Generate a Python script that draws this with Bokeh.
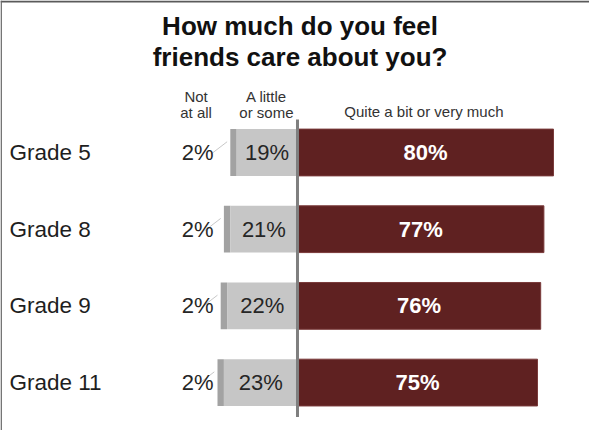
from bokeh.plotting import figure
from bokeh.models import Range1d, ColumnDataSource, Span, Label
from bokeh.core.properties import value
from bokeh.embed import file_html
from bokeh.resources import INLINE

grades = ["Grade 5", "Grade 8", "Grade 9", "Grade 11"]
not_at_all = [2, 2, 2, 2]
a_little = [19, 21, 22, 23]
quite_a_bit = [80, 77, 76, 75]

title_lines = ["How much do you feel", "friends care about you?"]
header_not = ["Not", "at all"]
header_little = ["A little", "or some"]
header_quite = "Quite a bit or very much"

MAROON = "#5f2121"
LIGHT = "#c6c6c6"
DARK = "#a2a2a2"
FONT = "Liberation Sans"

rows = list(range(len(grades)))

def pct(v):
    return f"{v}%"

src = ColumnDataSource(dict(
    row=rows,
    grade=grades,
    q0=[0] * 4,
    q1=quite_a_bit,
    l0=[-v for v in a_little],
    l1=[0] * 4,
    n0=[-(a + n) for a, n in zip(a_little, not_at_all)],
    n1=[-a for a in a_little],
    qmid=[v / 2 for v in quite_a_bit],
    lmid=[-v / 2 for v in a_little],
    qlab=[pct(v) for v in quite_a_bit],
    llab=[pct(v) for v in a_little],
    nlab=[pct(v) for v in not_at_all],
    nx=[-31.2] * 4,
    gx=[-90.0] * 4,
    lead_x0=[-(a + n) - 6.0 for a, n in zip(a_little, not_at_all)],
    lead_x1=[-(a + n) - 1.0 for a, n in zip(a_little, not_at_all)],
    lead_y0=[r + 0.02 for r in rows],
    lead_y1=[r - 0.14 for r in rows],
))

p = figure(width=589, height=430, output_backend="svg", toolbar_location=None,
           x_range=Range1d(-92.81, 91.25), y_range=Range1d(3.625, -1.982),
           min_border=0, min_border_left=0, min_border_right=0,
           min_border_top=0, min_border_bottom=0)
p.axis.visible = False
p.grid.visible = False
p.outline_line_color = None
p.background_fill_color = "white"
p.border_fill_color = "white"

H = 0.61
p.hbar(y="row", left="n0", right="n1", height=H, source=src, fill_color=DARK, line_color=None)
p.hbar(y="row", left="l0", right="l1", height=H, source=src, fill_color=LIGHT, line_color=None)
p.hbar(y="row", left="q0", right="q1", height=H, source=src, fill_color=MAROON,
       line_color="#7a3a3a", line_width=1)

# zero line
p.segment(x0=[0], y0=[-0.43], x1=[0], y1=[3.45], line_color="#7f7f7f", line_width=3)

# leader lines
p.segment(x0="lead_x0", y0="lead_y0", x1="lead_x1", y1="lead_y1", source=src,
          line_color="#c8c8c8", line_width=1)

p.text(x="qmid", y="row", text="qlab", source=src, text_align="center", text_baseline="middle",
       text_font=value(FONT), text_font_size="22px", text_font_style="bold", text_color="white")
p.text(x="lmid", y="row", text="llab", source=src, text_align="center", text_baseline="middle",
       text_font=value(FONT), text_font_size="22px", text_color="#262626")
p.text(x="nx", y="row", text="nlab", source=src, text_align="center", text_baseline="middle",
       text_font=value(FONT), text_font_size="22px", text_color="#262626")
p.text(x="gx", y="row", text="grade", source=src, text_align="left", text_baseline="middle",
       text_font=value(FONT), text_font_size="22.5px", text_color="#1e1e1e")

# title
for i, t in enumerate(title_lines):
    p.add_layout(Label(x=0.8, y=-1.652 + i * 0.41, text=t, text_align="center",
                       text_baseline="middle", text_font=FONT, text_font_size="26px",
                       text_font_style="bold", text_color="#111111"))

# column headers
for i, t in enumerate(header_not):
    p.add_layout(Label(x=-31.7, y=-0.73 + i * 0.21, text=t, text_align="center",
                       text_baseline="middle", text_font=FONT, text_font_size="15px",
                       text_color="#333333"))
for i, t in enumerate(header_little):
    p.add_layout(Label(x=-9.7, y=-0.73 + i * 0.21, text=t, text_align="center",
                       text_baseline="middle", text_font=FONT, text_font_size="15px",
                       text_color="#333333"))
p.add_layout(Label(x=39.5, y=-0.535, text=header_quite, text_align="center",
                   text_baseline="middle", text_font=FONT, text_font_size="15px",
                   text_color="#333333"))

# frame lines (top and left)
p.add_layout(Span(location=-1.97, dimension="width", line_color="#5a5a5a", line_width=2))
p.add_layout(Span(location=-92.6, dimension="height", line_color="#6a6a6a", line_width=1.5))

open("out.html", "w").write(file_html(p, INLINE))
